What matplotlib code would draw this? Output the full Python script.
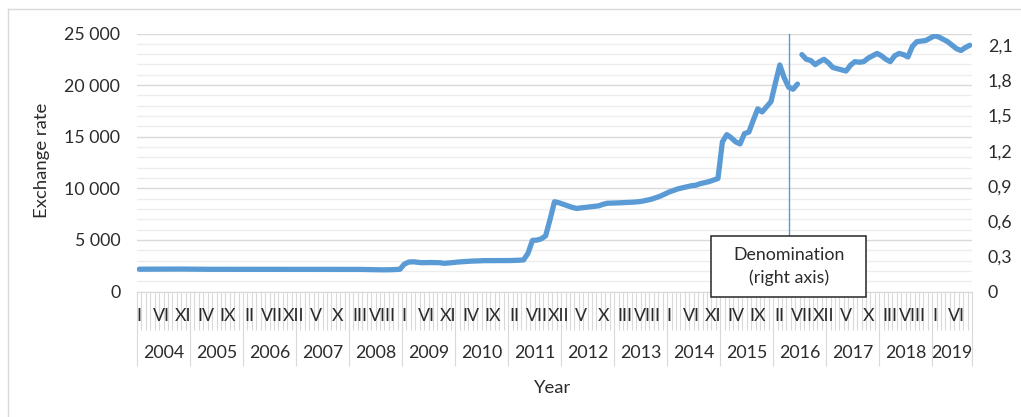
import matplotlib
matplotlib.use('Agg')

import numpy as np
import matplotlib.pyplot as plt
import matplotlib.transforms as mtransforms
from matplotlib.patches import Rectangle
from matplotlib.lines import Line2D

plt.rcParams['font.family'] = ['Lato', 'DejaVu Sans']

# months I..XII, years on the axis
roman = ['I', 'II', 'III', 'IV', 'V', 'VI', 'VII', 'VIII', 'IX', 'X', 'XI', 'XII']
years = list(range(2004, 2020))

# old rouble (left axis), Jan 2004 - Jun 2016
rate_old = [
    2160, 2160, 2160, 2165, 2165, 2170, 2170, 2175, 2175, 2175, 2170, 2170,   # 2004
    2165, 2160, 2155, 2150, 2150, 2150, 2150, 2150, 2150, 2150, 2150, 2150,   # 2005
    2150, 2150, 2150, 2145, 2145, 2145, 2145, 2140, 2140, 2140, 2140, 2140,   # 2006
    2140, 2140, 2145, 2145, 2150, 2150, 2150, 2150, 2150, 2150, 2150, 2150,   # 2007
    2150, 2145, 2140, 2130, 2120, 2110, 2100, 2100, 2100, 2110, 2130, 2150,   # 2008
    2650, 2850, 2880, 2830, 2790, 2800, 2810, 2800, 2790, 2730, 2760, 2800,   # 2009
    2850, 2880, 2910, 2940, 2950, 2970, 2990, 2990, 3000, 2990, 2980, 2990,   # 2010
    3000, 3010, 3030, 3060, 3700, 4950, 4980, 5100, 5400, 7000, 8700, 8600,   # 2011
    8450, 8300, 8150, 8050, 8100, 8150, 8200, 8250, 8300, 8450, 8550, 8560,   # 2012
    8580, 8600, 8620, 8640, 8660, 8700, 8760, 8850, 8950, 9100, 9250, 9450,   # 2013
    9650, 9800, 9950, 10050, 10150, 10250, 10300, 10450, 10550, 10650, 10800, 10950,  # 2014
    14500, 15200, 14900, 14500, 14300, 15300, 15450, 16600, 17700, 17400, 17900, 18400,  # 2015
    20200, 21950, 20700, 19800, 19600, 20100,   # 2016 I-VI
]

# new rouble after denomination (right axis), Jul 2016 - Sep 2019
rate_new = [
    2.02, 1.98, 1.97, 1.935, 1.96, 1.98,                                  # 2016 VII-XII
    1.95, 1.91, 1.90, 1.89, 1.88, 1.93, 1.96, 1.955, 1.96, 1.99, 2.01, 2.03,  # 2017
    2.01, 1.98, 1.96, 2.01, 2.03, 2.02, 2.00, 2.09, 2.13, 2.135, 2.14, 2.16,  # 2018
    2.18, 2.17, 2.15, 2.13, 2.10, 2.07, 2.055, 2.08, 2.10,                # 2019 I-IX
]

denom_month = 147   # where the marker line is drawn

n_old = len(rate_old)
n_months = n_old + len(rate_new)

blue = '#5B9BD5'
txt = '#2b2b2b'
grid_major = '#D9D9D9'
grid_minor = '#EDEDED'

W, H = 1021, 417
fig = plt.figure(figsize=(W / 100, H / 100), dpi=100)
ax = fig.add_axes([137 / W, 1 - 291.5 / H, (972 - 137) / W, (291.5 - 33.5) / H])

ax.set_xlim(-0.5, n_months - 0.5)
ax.set_ylim(0, 25000)
ax.set_yticks(np.arange(0, 25001, 5000))
ax.set_yticks(np.arange(0, 25001, 1000), minor=True)
ax.set_yticklabels(['{:,}'.format(v).replace(',', ' ') for v in range(0, 25001, 5000)])
ax.grid(which='major', axis='y', color=grid_major, lw=1)
ax.grid(which='minor', axis='y', color=grid_minor, lw=1)
ax.set_axisbelow(True)
ax.tick_params(axis='y', which='both', length=0, pad=12, labelsize=12.8, labelcolor=txt)

# month tick marks and year separators
year_bounds = list(np.arange(-0.5, n_months, 12)) + [n_months - 0.5]
ax.set_xticks(year_bounds)
ax.set_xticklabels([])
ax.set_xticks(np.arange(-0.5, n_months, 1), minor=True)
ax.tick_params(axis='x', which='minor', length=27.4, width=0.8, color=grid_major)
ax.tick_params(axis='x', which='major', length=53, width=0.8, color=grid_major)

for s in ['top', 'left', 'right']:
    ax.spines[s].set_visible(False)
ax.spines['bottom'].set_color(grid_major)

for i in range(0, n_months, 5):
    ax.annotate(roman[i % 12], xy=(i, 0), xycoords=('data', 'axes fraction'),
                xytext=(0, -17.6), textcoords='offset points',
                ha='center', va='center', fontsize=12.8, color=txt)

for k, yr in enumerate(years):
    start = k * 12
    end = min(start + 12, n_months)
    ax.annotate(str(yr), xy=((start + end - 1) / 2, 0), xycoords=('data', 'axes fraction'),
                xytext=(0, -44.3), textcoords='offset points',
                ha='center', va='center', fontsize=12.8, color=txt)

ax.plot(range(n_old), rate_old, color=blue, lw=3.8,
        solid_joinstyle='round', solid_capstyle='round', zorder=3)

ax2 = ax.twinx()
ax2.set_ylim(0, 2.2)
r_ticks = np.arange(0, 2.11, 0.3)
ax2.set_yticks(r_ticks)
ax2.set_yticklabels(['0'] + ['{:.1f}'.format(v).replace('.', ',') for v in r_ticks[1:]])
ax2.tick_params(axis='y', length=0, pad=11.5, labelsize=12.8, labelcolor=txt)
for s in ax2.spines.values():
    s.set_visible(False)
ax2.plot(range(n_old, n_months), rate_new, color=blue, lw=3.8,
         solid_joinstyle='round', solid_capstyle='round', zorder=3)

# denomination marker + label box
trans = mtransforms.blended_transform_factory(ax.transData, ax.transAxes)
box_bottom, box_top = -0.0213, 0.2147
ax2.plot([denom_month, denom_month], [box_top, 1.0], transform=trans,
         color=blue, lw=1.0, clip_on=False, zorder=4)
ax2.add_patch(Rectangle((denom_month - 17.5, box_bottom), 35, box_top - box_bottom,
                        transform=trans, facecolor='white', edgecolor='#262626',
                        lw=1.1, clip_on=False, zorder=5))
ax2.text(denom_month, (box_bottom + box_top) / 2, 'Denomination\n(right axis)',
         transform=trans, ha='center', va='center', fontsize=12.8, color=txt,
         linespacing=1.45, zorder=6)

fig.text(42 / W, 1 - 160 / H, 'Exchange rate', rotation=90,
         ha='center', va='center', fontsize=13.3, color=txt)
fig.text(553 / W, 1 - 388 / H, 'Year', ha='center', va='center', fontsize=13.3, color=txt)

# outer chart frame
fig.add_artist(Line2D([8 / W, 8 / W], [0, 1 - 9 / H], transform=fig.transFigure,
                      color=grid_major, lw=1))
fig.add_artist(Line2D([8 / W, 1], [1 - 9 / H, 1 - 9 / H], transform=fig.transFigure,
                      color=grid_major, lw=1))

fig.savefig('out.png', dpi=100)
